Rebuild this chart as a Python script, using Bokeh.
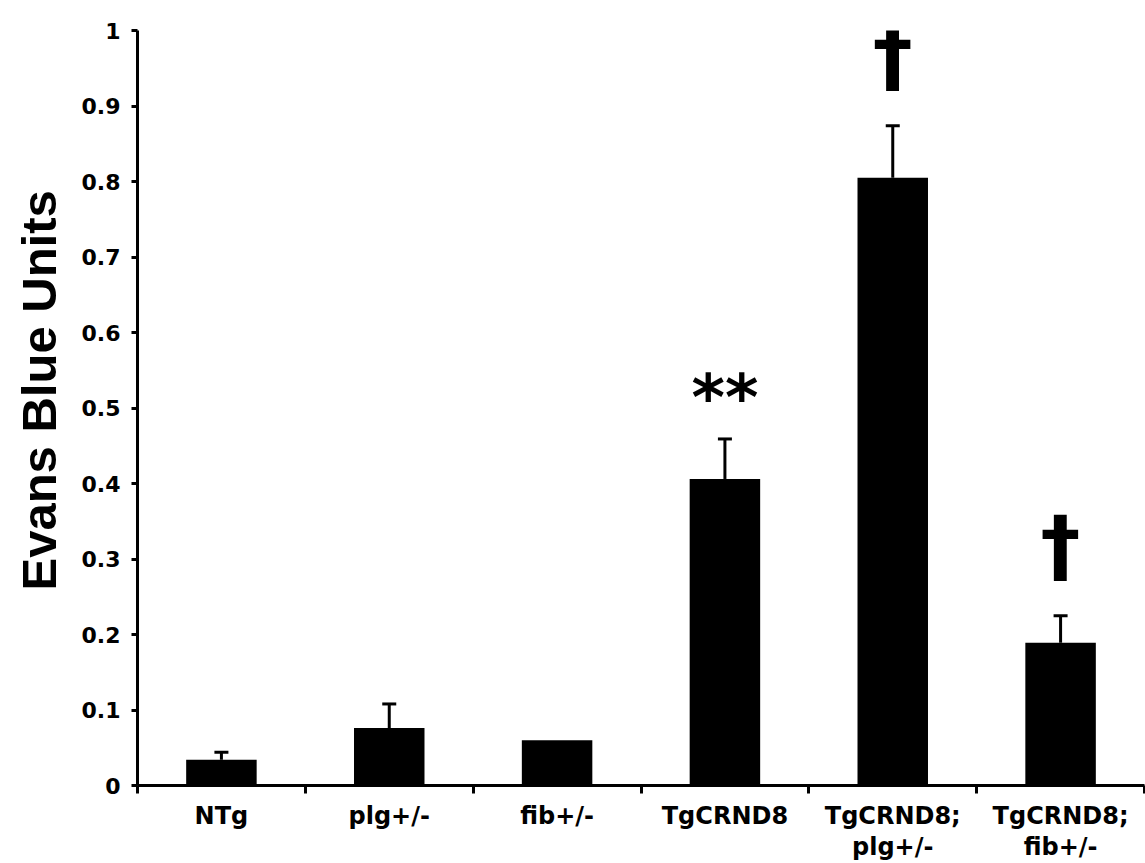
from bokeh.plotting import figure
from bokeh.models import (Range1d, FixedTicker, ColumnDataSource, Whisker, TeeHead,
                          Label, Title)
from bokeh.embed import file_html
from bokeh.resources import INLINE

# ---- data ----
categories = ["NTg", "plg+/-", "fib+/-", "TgCRND8", "TgCRND8;\nplg+/-", "TgCRND8;\nfib+/-"]
means = [0.034, 0.076, 0.060, 0.406, 0.805, 0.189]
sems = [0.010, 0.032, 0.0, 0.053, 0.069, 0.036]
marks = ["", "", "", "**", "\u2020", "\u2020"]
y_ticks = [0, 0.1, 0.2, 0.3, 0.4, 0.5, 0.6, 0.7, 0.8, 0.9, 1]
y_tick_labels = ["0", "0.1", "0.2", "0.3", "0.4", "0.5", "0.6", "0.7", "0.8", "0.9", "1"]
y_title = "Evans Blue Units"

n = len(categories)
centers = [i + 0.5 for i in range(n)]
bounds = list(range(n + 1))
upper = [m + s for m, s in zip(means, sems)]

p = figure(width=1145, height=863, output_backend="svg", toolbar_location=None,
           x_range=Range1d(0, n), y_range=Range1d(0, 1),
           min_border_left=137, min_border_right=1, min_border_top=30, min_border_bottom=78)
p.outline_line_color = None
p.grid.grid_line_color = None
p.background_fill_color = "white"
p.border_fill_color = "white"

# bars
p.vbar(x=centers, top=means, width=0.42, fill_color="black", line_color=None)

# error bars (upper only)
idx = [i for i in range(n) if sems[i] > 0]
err_src = ColumnDataSource(dict(x=[centers[i] for i in idx],
                                lower=[means[i] for i in idx],
                                upper=[upper[i] for i in idx]))
w = Whisker(base="x", lower="lower", upper="upper", source=err_src,
            line_color="black", line_width=3,
            upper_head=TeeHead(size=14, line_width=3, line_color="black"),
            lower_head=None)
p.add_layout(w)

FONT = "DejaVu Sans"

# y axis
ya = p.yaxis[0]
ya.ticker = FixedTicker(ticks=y_ticks)
ya.major_label_overrides = {t: l for t, l in zip(y_ticks, y_tick_labels)}
ya.minor_tick_line_color = None
ya.major_tick_in = 0
ya.major_tick_out = 6
ya.axis_line_width = 3
ya.major_tick_line_width = 3
ya.major_label_standoff = 11
ya.major_label_text_font = FONT
ya.major_label_text_font_style = "bold"
ya.major_label_text_font_size = "22px"
ya.major_label_text_color = "black"

# x axis: labels at category centres, tick marks at category boundaries
xa = p.xaxis[0]
xa.ticker = FixedTicker(ticks=centers, minor_ticks=bounds)
xa.major_label_overrides = {c: name for c, name in zip(centers, categories)}
xa.major_tick_in = 0
xa.major_tick_out = 0
xa.major_tick_line_color = None
xa.minor_tick_in = 0
xa.minor_tick_out = 8
xa.minor_tick_line_width = 3
xa.minor_tick_line_color = "black"
xa.axis_line_width = 3
xa.major_label_standoff = 8
xa.major_label_text_font = FONT
xa.major_label_text_font_style = "bold"
xa.major_label_text_font_size = "24px"
xa.major_label_text_line_height = 1.11
xa.major_label_text_color = "black"

# significance marks
for i in range(n):
    if marks[i]:
        if marks[i] == "**":
            off, size = 41, "64px"
        else:
            off, size = 70, "80px"
        p.add_layout(Label(x=centers[i], y=upper[i], text=marks[i], y_offset=off,
                           text_align="center", text_baseline="alphabetic",
                           text_font=FONT, text_font_style="bold",
                           text_font_size=size, text_color="black"))

# y title
p.add_layout(Title(text=y_title, align="left", vertical_align="top", offset=195,
                   standoff=21,
                   text_font="Liberation Sans", text_font_style="bold",
                   text_font_size="49px", text_color="black"), "left")

open("out.html", "w").write(file_html(p, INLINE))
